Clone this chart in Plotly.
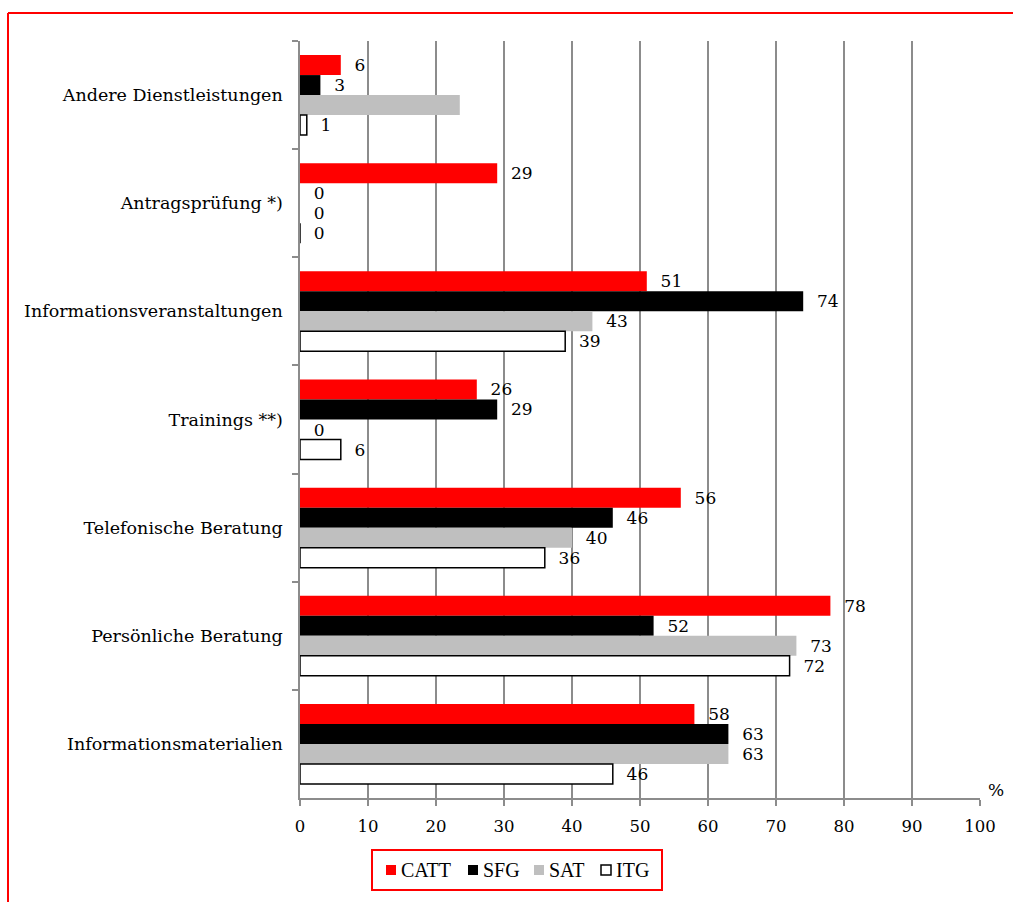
import plotly.graph_objects as go

categories = [
    "Andere Dienstleistungen",
    "Antragsprüfung *)",
    "Informationsveranstaltungen",
    "Trainings **)",
    "Telefonische Beratung",
    "Persönliche Beratung",
    "Informationsmaterialien",
]

series_names = ["CATT", "SFG", "SAT", "ITG"]

catt = [6, 29, 51, 26, 56, 78, 58]
sfg = [3, 0, 74, 29, 46, 52, 63]
sat = [23.5, 0, 43, 0, 40, 73, 63]
itg = [1, 0, 39, 6, 36, 72, 46]

# value labels shown next to the bars (the SAT bar of the first group is unlabeled)
catt_labels = ["6", "29", "51", "26", "56", "78", "58"]
sfg_labels = ["3", "0", "74", "29", "46", "52", "63"]
sat_labels = ["", "0", "43", "0", "40", "73", "63"]
itg_labels = ["1", "0", "39", "6", "36", "72", "46"]

x_ticks = [0, 10, 20, 30, 40, 50, 60, 70, 80, 90, 100]

fills = ["#FF0000", "#000000", "#BFBFBF", "#FFFFFF"]
outlines = ["#FF0000", "#000000", "#BFBFBF", "#000000"]
outline_w = [0, 0, 0, 1.5]

serif = "DejaVu Serif"

fig = go.Figure()
for name, vals, labels, fc, lc, lw in zip(
    series_names,
    [catt, sfg, sat, itg],
    [catt_labels, sfg_labels, sat_labels, itg_labels],
    fills, outlines, outline_w,
):
    fig.add_trace(go.Bar(
        y=categories,
        x=vals,
        name=name,
        orientation="h",
        marker=dict(color=fc, line=dict(color=lc, width=lw)),
        # leading spaces push the value label away from the bar end
        text=[("\u00a0\u00a0" + t) if t else "" for t in labels],
        textposition="outside",
        cliponaxis=False,
        textfont=dict(family=serif, size=17, color="#000000"),
        showlegend=False,
    ))

W0, W1 = 300, 980
T0, B0 = 41, 798
pw, ph = W1 - W0, B0 - T0


def px(x):
    return (x - W0) / pw


def py(y):
    return (B0 - y) / ph


shapes = [
    # outer frame (top and left edges)
    dict(type="line", xref="paper", yref="paper",
         x0=px(8), x1=px(1013), y0=py(13), y1=py(13),
         line=dict(color="#FF0000", width=2)),
    dict(type="line", xref="paper", yref="paper",
         x0=px(8), x1=px(8), y0=py(13), y1=py(902),
         line=dict(color="#FF0000", width=2)),
    # legend box
    dict(type="rect", xref="paper", yref="paper",
         x0=px(372), x1=px(662), y0=py(850), y1=py(890),
         line=dict(color="#FF0000", width=2), fillcolor="rgba(0,0,0,0)"),
]

annotations = [
    dict(
        text="%", xref="paper", yref="paper",
        x=px(996), y=py(790), xanchor="center", yanchor="middle",
        showarrow=False,
        font=dict(family=serif, size=17, color="#000000"),
    )
]

# legend entries: swatch + series name
legend_x = [386, 468, 534, 601]
for name, fc, lc, lx in zip(series_names, fills, outlines, legend_x):
    shapes.append(dict(
        type="rect", xref="paper", yref="paper",
        x0=px(lx), x1=px(lx + 10), y0=py(875), y1=py(865),
        fillcolor=fc, line=dict(color=lc, width=1.5 if fc == "#FFFFFF" else 0),
    ))
    annotations.append(dict(
        text=name, xref="paper", yref="paper",
        x=px(lx + 13), y=py(870), xanchor="left", yanchor="middle",
        showarrow=False,
        font=dict(family="Liberation Serif", size=20, color="#000000"),
    ))

fig.update_layout(
    width=1013,
    height=902,
    margin=dict(l=W0, r=1013 - W1, t=T0, b=902 - B0),
    paper_bgcolor="#FFFFFF",
    plot_bgcolor="#FFFFFF",
    barmode="group",
    bargap=0.26,
    bargroupgap=0,
    showlegend=False,
    xaxis=dict(
        range=[0, 100],
        tickvals=x_ticks,
        ticktext=[str(v) for v in x_ticks],
        showgrid=True,
        gridcolor="#8C8C8C",
        gridwidth=1.5,
        showline=True,
        linecolor="#8C8C8C",
        linewidth=1.5,
        ticks="outside",
        ticklen=6,
        tickcolor="#8C8C8C",
        tickwidth=1.5,
        ticklabelstandoff=6,
        tickfont=dict(family=serif, size=16.5, color="#000000"),
        zeroline=False,
        fixedrange=True,
    ),
    yaxis=dict(
        categoryorder="array",
        categoryarray=categories,
        autorange="reversed",
        showgrid=False,
        showline=True,
        linecolor="#8C8C8C",
        linewidth=1.5,
        ticks="outside",
        tickson="boundaries",
        ticklen=6,
        tickcolor="#8C8C8C",
        tickwidth=1.5,
        ticklabelstandoff=12,
        tickfont=dict(family=serif, size=17.5, color="#000000"),
        fixedrange=True,
    ),
    annotations=annotations,
    shapes=shapes,
)

fig.write_html("out.html")
